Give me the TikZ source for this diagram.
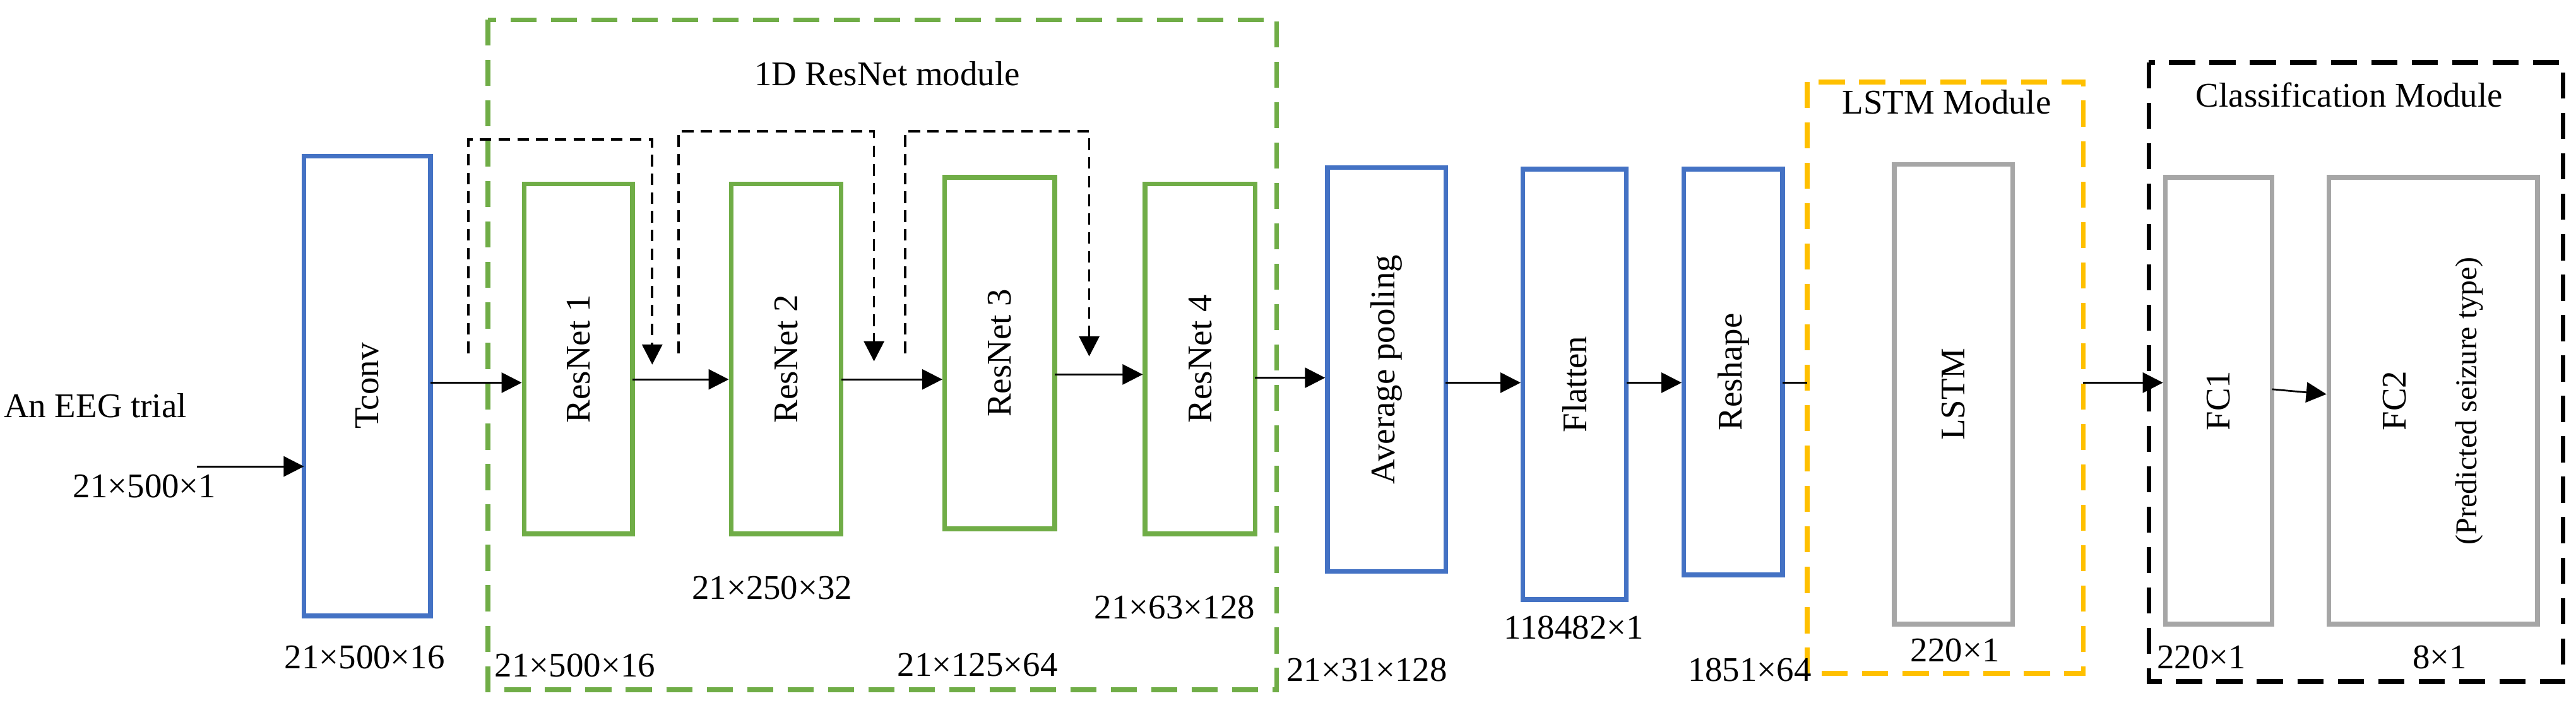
\documentclass[tikz,border=0pt]{standalone}
\usepackage{fontspec}
\setmainfont{Liberation Serif}
\usetikzlibrary{arrows.meta}
\definecolor{cblue}{RGB}{68,114,196}
\definecolor{cgreen}{RGB}{112,173,71}
\definecolor{cyel}{RGB}{255,192,0}
\definecolor{cgray}{RGB}{166,166,166}
\begin{document}
\begin{tikzpicture}[x=0.02cm,y=-0.02cm,font=\fontsize{12}{14}\selectfont,
 box/.style={draw,line width=1.6pt,inner sep=0pt},
 lab/.style={inner sep=0pt},
 arr/.style={-{Triangle[length=7pt,width=7pt]},line width=0.6pt},
 skip/.style={line width=0.8pt,dash pattern=on 4pt off 2.5pt,-{Triangle[length=7pt,width=7pt]}},
 mod/.style={line width=1.6pt,dash pattern=on 9pt off 5pt}]
\useasboundingbox (0,0) rectangle (1568,428);
\newcommand{\bx}[7]{\node[box,draw=#6,minimum width={(#3-#2)*0.02cm},minimum height={(#5-#4)*0.02cm}] (#1) at ({(#2+#3)/2},{(#4+#5)/2}) {\rotatebox{90}{#7}};}
% modules
\draw[mod,draw=cgreen] (297,12) rectangle (777,420);
\node[lab] (t1) at (540,45) {1D ResNet module};
\draw[mod,draw=cyel] (1100,50) rectangle (1268,410);
\node[lab,fill=white] (t2) at (1185,62) {LSTM Module};
\draw[mod,draw=black] (1308,38) rectangle (1560,415);
\node[lab,fill=white,inner ysep=2pt] (t3) at (1430,58) {Classification Module};
% boxes
\bx{tc}{185}{262}{95}{375}{cblue}{Tconv}
\bx{r1}{319}{385}{112}{325}{cgreen}{ResNet 1}
\bx{r2}{445}{512}{112}{325}{cgreen}{ResNet 2}
\bx{r3}{575}{642}{108}{322}{cgreen}{ResNet 3}
\bx{r4}{697}{764}{112}{325}{cgreen}{ResNet 4}
\bx{ap}{808}{880}{102}{348}{cblue}{Average pooling}
\bx{fl}{927}{990}{103}{365}{cblue}{Flatten}
\bx{rs}{1025}{1085}{103}{350}{cblue}{Reshape}
\bx{ls}{1153}{1225}{100}{380}{cgray}{LSTM}
\bx{f1}{1318}{1383}{108}{380}{cgray}{FC1}
\node[box,draw=cgray,minimum width={127*0.02cm},minimum height={272*0.02cm}] (f2) at (1481,244) {\rotatebox{90}{\shortstack{FC2\\[14pt]{\fontsize{10.5}{12}\selectfont(Predicted seizure type)}}}};
% input
\node[lab] (in) at (58,247) {An EEG trial};
\node[lab] (ind) at (88,296) {21×500×1};
\coordinate (s0) at (120,284);
\draw[arr] (s0) -- (185,284);
% main arrows
\draw[arr] (262,233) -- (r1.west|-0,233);
\draw[arr] (385,231) -- (r2.west|-0,231);
\draw[arr] (512,231) -- (r3.west|-0,231);
\draw[arr] (642,228) -- (r4.west|-0,228);
\draw[arr] (764,230) -- (ap.west|-0,230);
\draw[arr] (880,233) -- (fl.west|-0,233);
\draw[arr] (990,233) -- (rs.west|-0,233);
\coordinate (y1) at (1100,233);
\draw[line width=0.6pt] (1085,233) -- (y1);
\coordinate (y2) at (1268,233);
\draw[arr] (y2) -- (f1.west|-0,233);
\draw[arr] (1383,237) -- (f2.west|-0,240);
% skips
\coordinate (a1) at (285,215); \coordinate (b1) at (397,222);
\draw[skip] (a1) -- (285,85) -- (397,85) -- (b1);
\coordinate (a2) at (413,215); \coordinate (b2) at (532,220);
\draw[skip] (a2) -- (413,80) -- (532,80) -- (b2);
\coordinate (a3) at (551,215); \coordinate (b3) at (663,217);
\draw[skip] (a3) -- (551,80) -- (663,80) -- (b3);
% dims
\node[lab] (d1) at (222,400) {21×500×16};
\node[lab] (d2) at (350,405) {21×500×16};
\node[lab] (d3) at (470,358) {21×250×32};
\node[lab] (d4) at (595,405) {21×125×64};
\node[lab] (d5) at (715,370) {21×63×128};
\node[lab] (d6) at (832,408) {21×31×128};
\node[lab] (d7) at (958,382) {118482×1};
\node[lab] (d8) at (1065,408) {1851×64};
\node[lab] (d9) at (1190,396) {220×1};
\node[lab] (d10) at (1340,400) {220×1};
\node[lab] (d11) at (1485,400) {8×1};
\end{tikzpicture}
\end{document}
